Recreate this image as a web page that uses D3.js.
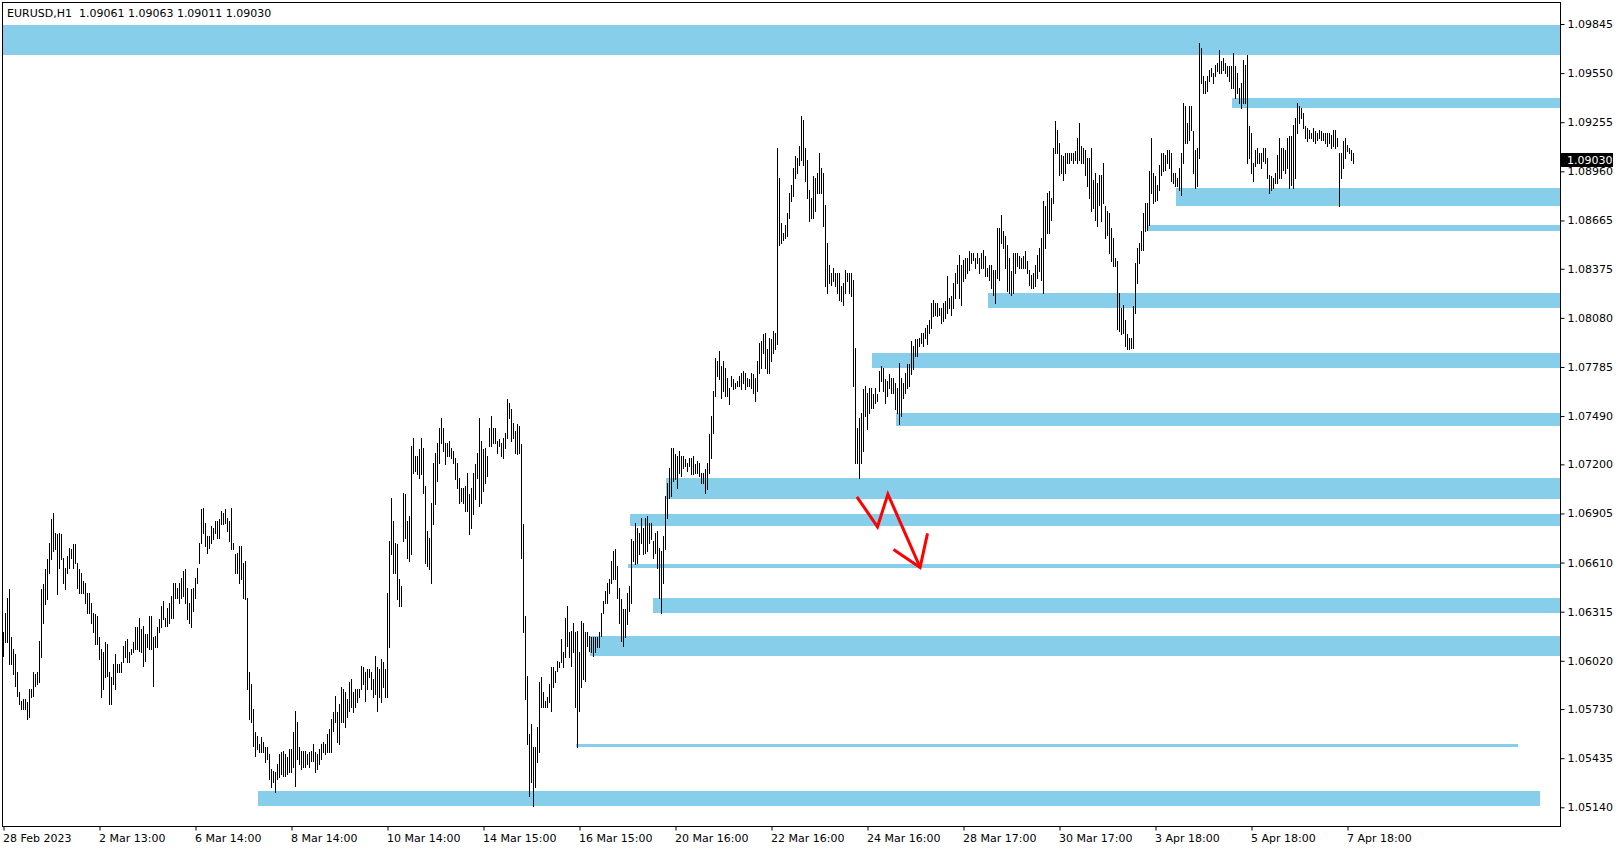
<!DOCTYPE html>
<html>
<head>
<meta charset="utf-8">
<script src="https://cdn.jsdelivr.net/npm/d3@7"></script>
<style>
	body { margin: 0; background: #fff; }
	svg { display: block; font-family: "DejaVu Sans", sans-serif; font-size: 11px; }
	.title { white-space: pre; }
</style>
</head>
<body>
<svg id="chart" width="1624" height="850"></svg>
<script>

// EURUSD H1, 28 Feb - 7 Apr 2023
var base = 1.05;			// bar prices are pips above this
var title = "EURUSD,H1  1.09061 1.09063 1.09011 1.09030";
var lastPrice = 1.09030;

// hourly highs, in pips over base
var highs = [
	119,131,140,145,116,109,106,95,83,78, 79,79,77,85,85,95,94,95,114,145,
	148,157,163,173,187,191,179,178,179,178, 164,158,165,170,169,172,172,161,157,155,
	150,149,143,143,137,131,130,129,116,109, 107,113,112,95,92,100,106,100,100,101,
	111,114,115,107,109,113,122,122,128,121, 123,118,118,129,129,116,117,122,127,135,
	138,128,134,137,141,149,149,146,149,152, 156,157,146,137,145,146,152,158,173,193,
	194,185,177,177,183,182,186,186,187,192, 191,193,188,186,194,173,166,167,171,171,
	161,162,140,95,
	88,73,59,57,52,56,53,50,50,46, 37,36,35,40,46,47,48,46,44,49,
	49,59,72,65,50,48,48,48,46,47, 48,52,47,46,49,52,53,52,58,61,
	67,71,81,71,76,86,85,83,79,89, 91,83,85,85,85,99,98,95,97,97,
	95,91,105,98,97,103,101,97,143,174, 200,186,173,172,151,147,203,202,186,189,
	231,236,225,225,229,236,230,207,180,176, 197,221,227,233,242,248,242,233,233,234,
	230,228,224,221,212,206,206,207,215,202, 206,215,220,227,248,234,229,230,225,242,
	249,242,242,234,235,233,236,239,259,257, 253,245,240,244,243,232,184,129,93,58,
	64,50,50,62,89,
	92,83,78,80,88,98,98,96,102,101, 115,107,128,135,119,120,125,119,120,107,
	126,125,119,119,117,116,116,116,116,119, 131,138,144,149,151,162,168,169,159,146,
	139,133,133,143,147,175,174,185,182,179, 188,182,188,189,185,185,174,179,180,170,
	168,177,201,209,
	218,230,230,226,225,228,225,225,223,221, 224,224,225,220,222,221,215,215,217,221,
	238,249,264,284,282,288,279,282,278,272, 266,273,271,269,270,273,275,276,275,272,
	271,275,274,272,282,293,294,298,299,289, 296,295,300,299,410,392,365,359,364,371,
	383,388,398,405,404,411,429,427,410,403, 385,380,393,392,395,407,398,395,376,353,
	340,335,338,335,335,335,327,329,337,335, 335,335,331,290,242,248,251,265,267,263,
	266,
	266,262,266,262,276,279,278,271,270,274, 272,272,269,266,281,272,269,275,280,280,
	294,291,295,295,296,299,299,302,304,307, 317,319,317,317,314,314,317,318,333,320,
	321,329,335,340,346,340,343,344,344,348, 347,347,344,347,344,347,349,345,338,340,
	340,337,337,362,362,370,360,357,352,344, 336,347,347,347,345,344,345,348,342,337,
	334,335,340,346,350,356,378,375,383,384, 380,410,426,421,413,406,405,407,407,407,
	407,407,408,416,425,411,410,409,404,404, 410,391,395,389,394,
	394,401,375,372,371,362,356,344,342,323, 314,316,307,298,296,296,315,341,350,353,
	360,371,377,377,396,416,395,393,388,400, 407,407,406,409,409,407,395,395,392,398,
	407,437,435,425,435,435,420,409,410,473, 470,453,450,453,457,458,455,460,461,469,
	462,464,461,459,459,459,467,459,455,446, 449,463,460,466,423,419,401,409,410,407,
	407,410,410,404,394,393,392,395,406,416, 410,410,409,416,417,417,424,428,437,435,
	434,431,423,422,421,419,422,420,419,421, 420,419,419,419,419,418,421,421,416,407,
	407,414,416,412,410,409,407
];

// hourly lows, in pips over base
var lows = [
	105,113,113,100,100,94,87,81,76,73, 73,73,67,68,80,81,87,88,89,104,
	125,136,139,155,163,168,169,142,158,163, 149,145,155,158,164,158,161,146,143,143,
	143,137,131,131,125,119,112,112,103,80, 85,92,93,76,76,88,85,95,95,95,
	101,104,101,101,106,107,109,109,108,107, 99,102,110,109,109,87,110,110,119,122,
	127,123,123,125,128,128,140,140,137,140, 141,137,127,125,122,132,140,149,161,173,
	179,171,167,170,173,175,179,176,176,184, 184,185,180,174,169,169,155,155,149,151,
	140,139,85,67,
	65,51,45,49,47,47,47,41,43,31, 26,29,23,31,32,34,33,33,34,35,
	35,38,27,43,40,37,38,38,40,38, 42,42,35,37,40,43,47,46,47,47,
	47,60,65,53,52,65,65,62,68,72, 74,71,74,77,80,85,88,78,85,92,
	85,80,82,72,80,77,86,80,80,110, 166,155,155,139,135,135,174,176,164,162,
	166,215,216,214,212,214,203,161,159,157, 149,184,196,210,221,233,228,220,225,225,
	224,221,211,206,197,198,197,192,192,178, 182,190,199,212,195,197,204,209,213,231,
	231,233,233,227,231,225,224,230,236,248, 234,236,227,226,227,164,119,79,52,21,
	29,15,26,41,47,
	74,74,74,74,77,72,86,89,96,98, 101,98,104,111,104,99,107,74,50,72,
	86,91,90,111,108,107,105,107,110,110, 117,131,137,137,143,149,151,151,140,125,
	114,111,116,124,132,137,162,160,161,166, 173,166,167,168,173,175,164,167,158,140,
	131,149,169,188,
	200,201,210,211,206,215,213,218,219,216, 219,214,214,215,215,213,209,209,203,205,
	215,224,239,261,273,271,260,264,261,261, 256,267,265,266,267,267,265,269,265,267,
	267,266,263,258,264,275,278,287,278,275, 275,282,287,289,292,352,353,355,356,357,
	368,378,381,392,395,400,403,400,390,380, 366,368,368,372,383,383,383,363,327,323,
	329,328,330,327,323,319,318,316,323,330, 323,321,267,221,221,212,221,228,249,241,
	251,
	254,254,257,258,264,270,264,257,261,266, 263,263,253,251,244,249,260,263,266,267,
	274,277,285,285,291,293,291,296,292,299, 302,309,310,309,310,305,306,308,311,314,
	310,314,320,329,320,316,330,332,335,337, 341,343,338,341,335,338,338,333,333,331,
	326,322,317,332,331,353,350,338,324,323, 322,323,335,339,338,338,338,338,335,328,
	326,326,327,332,336,331,323,350,359,359, 367,377,407,407,394,395,391,395,401,401,
	403,401,403,401,403,401,401,394,387,380, 372,374,367,363,376,
	366,377,356,358,347,342,339,339,301,300, 298,299,291,289,289,290,290,311,329,341,
	349,349,360,361,364,383,377,378,379,385, 394,396,397,401,398,390,389,387,387,385,
	382,401,413,413,415,421,395,386,387,404, 449,443,443,444,450,453,449,453,456,455,
	455,457,455,453,450,446,446,440,443,437, 434,437,437,401,404,395,390,399,401,401,
	398,402,401,392,383,385,386,389,389,392, 392,397,395,398,386,388,386,392,419,425,
	428,422,416,414,416,416,414,413,415,416, 415,415,413,411,413,410,411,410,411,375,
	392,398,404,408,407,403,401
];

// time axis, one label every 48 bars
var timeLabels = [ "28 Feb 2023", "2 Mar 13:00", "6 Mar 14:00", "8 Mar 14:00", "10 Mar 14:00",
	"14 Mar 15:00", "16 Mar 15:00", "20 Mar 16:00", "22 Mar 16:00", "24 Mar 16:00",
	"28 Mar 17:00", "30 Mar 17:00", "3 Apr 18:00", "5 Apr 18:00", "7 Apr 18:00" ];

var priceTicks = [ 1.09845, 1.09550, 1.09255, 1.08960, 1.08665, 1.08375, 1.08080, 1.07785,
	1.07490, 1.07200, 1.06905, 1.06610, 1.06315, 1.06020, 1.05730, 1.05435, 1.05140 ];

// sky blue zones: top / bottom price, first bar, last bar (null = open to the right)
var zoneTop  = [ 1.0984, 1.0940, 1.0886, 1.0864, 1.0823, 1.0787, 1.0751, 1.0712, 1.0690, 1.0660, 1.0640, 1.0617, 1.0552, 1.0524 ];
var zoneBot  = [ 1.0966, 1.0934, 1.0875, 1.0860, 1.0814, 1.0778, 1.0743, 1.0699, 1.0683, 1.0658, 1.0631, 1.0605, 1.0550, 1.0515 ];
var zoneFrom = [ -2, 614, 586, 572, 492, 434, 446, 331, 313, 312, 325, 293, 286, 127 ];
var zoneTo   = [ null, null, null, null, null, null, null, null, null, null, null, null, 757, 768 ];

// red arrow, [bar, pips]
var arrowLine = [ [426.7, 200.5], [437, 182.5], [442.2, 202.1], [458.3, 158.1] ];
var arrowHead = [ [462, 178.5], [458.3, 158.1], [445, 168.9] ];

var frame = { left: 2, right: 1560, top: 2, bottom: 826 };

var svg = d3.select("#chart");

var x = d3.scaleLinear().domain([0, highs.length - 1]).range([3.5, 3.5 + 2 * (highs.length - 1)]);
var y = d3.scaleLinear().domain([1.05140, 1.09845]).range([807.3, 24]);
var px = p => base + p / 10000;

var plot = svg.append("g");

plot.append("clipPath").attr("id", "clip")
	.append("rect")
		.attr("x", frame.left).attr("y", frame.top)
		.attr("width", frame.right - frame.left).attr("height", frame.bottom - frame.top);

var inner = plot.append("g").attr("clip-path", "url(#clip)");

// zones
inner.selectAll("rect.zone")
	.data(zoneTop.map( (t, i) => ({ top: t, bot: zoneBot[i], from: zoneFrom[i], to: zoneTo[i] }) ))
	.join("rect")
		.attr("class", "zone")
		.attr("x", d => Math.round(x(d.from)))
		.attr("y", d => Math.round(y(d.top)))
		.attr("width", d => (d.to === null ? frame.right : Math.round(x(d.to))) - Math.round(x(d.from)))
		.attr("height", d => Math.max(3, Math.round(y(d.bot)) - Math.round(y(d.top))))
		.attr("fill", "#87ceeb");

// bars
inner.selectAll("rect.bar")
	.data(highs.map( (h, i) => ({ i: i, h: px(h), l: px(lows[i]) }) ))
	.join("rect")
		.attr("class", "bar")
		.attr("x", d => x(d.i) - 0.5)
		.attr("y", d => Math.round(y(d.h)))
		.attr("width", 1)
		.attr("height", d => Math.max(1, Math.round(y(d.l)) - Math.round(y(d.h)) + 1))
		.attr("fill", "#000");

// red arrow
var line = d3.line().x(d => x(d[0])).y(d => y(px(d[1])));
[arrowLine, arrowHead].forEach( a => {
	inner.append("path")
		.attr("d", line(a))
		.attr("fill", "none")
		.attr("stroke", "#ff0000")
		.attr("stroke-width", 3)
		.attr("stroke-linejoin", "miter");
});

// frame
svg.append("rect")
	.attr("x", frame.left + 0.5).attr("y", frame.top + 0.5)
	.attr("width", frame.right - frame.left).attr("height", frame.bottom - frame.top)
	.attr("fill", "none")
	.attr("stroke", "#000");

// price axis
var yaxis = svg.append("g")
	.attr("transform", `translate(${frame.right + 0.5},0)`)
	.call(d3.axisRight(y).tickValues(priceTicks).tickFormat(d3.format(".5f")).tickSize(4).tickPadding(3));
yaxis.select(".domain").remove();
yaxis.selectAll("line").attr("stroke", "#000");
yaxis.selectAll("text")
	.attr("fill", "#000")
	.style("font-family", "DejaVu Sans")
	.style("font-size", "11px");

// time axis
var xaxis = svg.append("g")
	.attr("transform", `translate(0,${frame.bottom + 0.5})`)
	.call(d3.axisBottom(x).tickValues(timeLabels.map( (t, i) => i * 48 ))
		.tickFormat( (d, i) => timeLabels[i] ).tickSize(4).tickPadding(4));
xaxis.select(".domain").remove();
xaxis.selectAll("line").attr("stroke", "#000");
xaxis.selectAll("text")
	.attr("text-anchor", "start")
	.attr("x", -1)
	.attr("fill", "#000")
	.style("font-family", "DejaVu Sans")
	.style("font-size", "11px");

// last price marker
var ly = Math.round(y(lastPrice));
svg.append("rect")
	.attr("x", frame.right + 1).attr("y", ly - 7)
	.attr("width", 52).attr("height", 14)
	.attr("fill", "#000");
svg.append("text")
	.attr("x", 1567).attr("y", ly + 4)
	.attr("fill", "#fff")
	.text(d3.format(".5f")(lastPrice));

// symbol line
svg.append("text")
	.attr("class", "title")
	.attr("x", 7).attr("y", 17)
	.attr("fill", "#000")
	.text(title);

</script>
</body>
</html>
